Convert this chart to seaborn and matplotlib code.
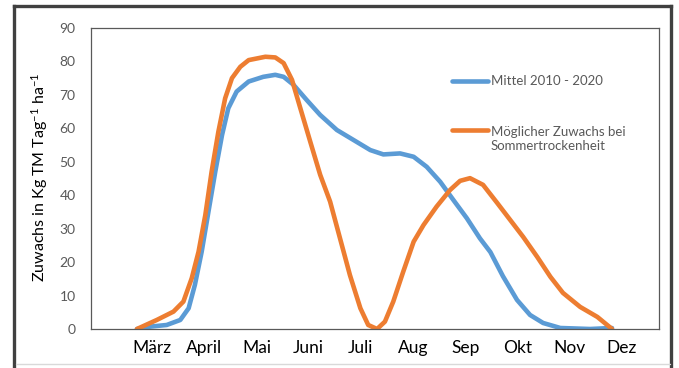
import numpy as np
import pandas as pd
import matplotlib
matplotlib.use("Agg")
import matplotlib.pyplot as plt
from matplotlib.patches import Rectangle
from matplotlib.lines import Line2D
import seaborn as sns

# ---- data (x in month units: 3 = März ... 12 = Dez) ----
months = ["März", "April", "Mai", "Juni", "Juli", "Aug", "Sep", "Okt", "Nov", "Dez"]
month_pos = [3, 4, 5, 6, 7, 8, 9, 10, 11, 12]

mittel_x = [2.71, 2.96, 3.28, 3.54, 3.70, 3.82, 3.95, 4.08, 4.21, 4.34, 4.46, 4.62,
            4.85, 5.13, 5.36, 5.52, 5.71, 5.96, 6.22, 6.54, 6.86, 7.18, 7.43, 7.75,
            8.01, 8.26, 8.52, 8.77, 9.03, 9.28, 9.48, 9.72, 9.99, 10.24, 10.49,
            10.82, 11.39, 11.81]
mittel_y = [0.0, 0.7, 1.2, 2.7, 6.2, 13.2, 23.1, 35.1, 47.0, 58.0, 66.0, 71.0,
            74.0, 75.4, 76.0, 75.4, 73.0, 68.5, 64.0, 59.5, 56.5, 53.5, 52.2, 52.5,
            51.5, 48.5, 44.0, 38.6, 33.1, 27.1, 23.0, 15.8, 8.7, 4.2, 1.8,
            0.3, 0.0, 0.3]

trocken_x = [2.71, 3.09, 3.41, 3.60, 3.76, 3.89, 4.02, 4.14, 4.27, 4.40, 4.53, 4.69,
             4.85, 5.17, 5.36, 5.52, 5.68, 5.84, 6.03, 6.22, 6.41, 6.60, 6.79, 6.99,
             7.14, 7.31, 7.46, 7.62, 7.81, 8.01, 8.20, 8.45, 8.71, 8.90, 9.09, 9.34,
             9.61, 9.86, 10.11, 10.38, 10.63, 10.87, 11.20, 11.53, 11.81]
trocken_y = [0.0, 2.7, 5.2, 8.2, 15.2, 23.1, 34.1, 47.0, 59.0, 69.0, 75.0, 78.4,
             80.4, 81.4, 81.2, 79.5, 74.5, 66.0, 56.0, 46.1, 38.1, 27.1, 16.1, 6.2,
             1.2, 0.0, 2.2, 8.2, 17.1, 26.1, 31.1, 36.6, 41.6, 44.3, 45.1, 43.1,
             37.7, 32.6, 27.5, 21.5, 15.6, 10.8, 6.6, 3.6, 0.0]

series_names = ["Mittel 2010 - 2020", "Möglicher Zuwachs bei\nSommertrockenheit"]
colors = ["#5B9BD5", "#ED7D31"]

df = pd.concat([
    pd.DataFrame({"Monat": mittel_x, "Zuwachs": mittel_y, "Serie": series_names[0]}),
    pd.DataFrame({"Monat": trocken_x, "Zuwachs": trocken_y, "Serie": series_names[1]}),
])

sns.set_theme(style="white")
plt.rcParams["font.family"] = ["Lato", "DejaVu Sans"]
plt.rcParams["mathtext.default"] = "regular"

fig = plt.figure(figsize=(6.79, 3.68), dpi=100)
ax = fig.add_axes([91 / 679, 1 - 329 / 368, (659 - 91) / 679, (329 - 28) / 368])

sns.lineplot(data=df, x="Monat", y="Zuwachs", hue="Serie", palette=colors,
             estimator=None, sort=False, linewidth=3.3, ax=ax, legend=False)
for ln in ax.lines:
    ln.set_solid_capstyle("round")
    ln.set_solid_joinstyle("round")

ax.set_xlim(1.83, 12.71)
ax.set_ylim(0, 90)
ax.set_yticks(range(0, 91, 10))
ax.set_xticks(month_pos)
ax.set_xticklabels(months)
ax.tick_params(axis="y", length=0, pad=11, labelsize=10, labelcolor="#595959")
ax.tick_params(axis="x", length=0, pad=8, labelsize=12.5, labelcolor="black")
ax.set_xlabel("")
ax.set_ylabel("Zuwachs in Kg TM Tag$^{-1}$ ha$^{-1}$", fontsize=11.5, color="black")
ax.yaxis.set_label_coords(-0.072, 0.505)
for sp in ax.spines.values():
    sp.set_color("#595959")
    sp.set_linewidth(0.9)

# legend drawn in axes coordinates (handle aligned with first text line)
def ax_xy(px, py):
    return ((px - 91) / 568, (329 - py) / 301)

legend_rows = [(81, 81), (130, 139)]
for (py_line, py_text), name, col in zip(legend_rows, series_names, colors):
    x0, y0 = ax_xy(452, py_line)
    x1, _ = ax_xy(488, py_line)
    ax.add_line(Line2D([x0, x1], [y0, y0], transform=ax.transAxes, color=col,
                       linewidth=3.3, solid_capstyle="round"))
    tx, ty = ax_xy(491, py_text)
    ax.text(tx, ty, name, transform=ax.transAxes, ha="left", va="center",
            fontsize=9.5, color="#595959", linespacing=1.25)

# outer frame (open at the bottom, as in the cropped original)
frame_kw = dict(transform=fig.transFigure, color="#404040", linewidth=2.4,
                solid_capstyle="projecting")
fig.add_artist(Line2D([14 / 679, 14 / 679], [0, 1 - 6 / 368], **frame_kw))
fig.add_artist(Line2D([671 / 679, 671 / 679], [0, 1 - 6 / 368], **frame_kw))
fig.add_artist(Line2D([14 / 679, 671 / 679], [1 - 6 / 368, 1 - 6 / 368], **frame_kw))
fig.add_artist(Line2D([16 / 679, 670 / 679], [1 - 364 / 368, 1 - 364 / 368],
                      transform=fig.transFigure, color="#d9d9d9", linewidth=1.0))

fig.savefig("out.png", dpi=100)
